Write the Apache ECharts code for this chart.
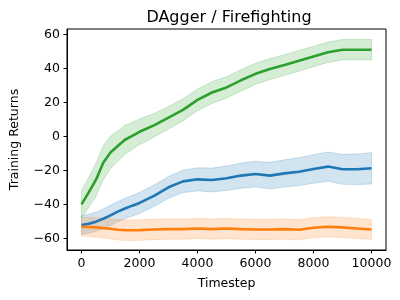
<!DOCTYPE html>
<html>
<head>
<meta charset="utf-8">
<script src="https://cdn.jsdelivr.net/npm/echarts@6/dist/echarts.min.js"></script>
<style>
html,body{margin:0;padding:0;background:#fff;}
#chart{width:400px;height:300px;}
</style>
</head>
<body>
<div id="chart"></div>
<script>
// ---- data ----
var timesteps = [0,250,500,750,1000,1250,1500,1750,2000,2500,3000,3500,4000,4500,5000,5500,6000,6500,7000,7500,8000,8500,9000,9500,10000];
var blueMean  = [-52.2,-51.5,-50.2,-48.5,-46.5,-44.3,-42.5,-40.8,-39.2,-35,-30,-26.5,-25.3,-25.7,-24.7,-23.1,-22.2,-23.1,-21.8,-20.8,-19.2,-17.8,-19.4,-19.4,-18.8];
var blueStd   = [5.5,5.6,5.7,5.8,5.9,6,6,6.1,6.2,6.3,6.4,6.6,6.8,7,7.2,7.4,7.6,7.8,8,8.2,8.4,8.6,8.8,9,9.2];
var orangeMean= [-53.2,-53.4,-53.6,-54,-54.4,-55,-55.2,-55.3,-55.2,-54.8,-54.6,-54.6,-54.2,-54.6,-54.2,-54.6,-54.8,-54.8,-54.6,-55,-53.8,-53.2,-53.6,-54.2,-54.8];
var orangeStd = [5.5,5.6,5.7,5.8,5.9,6,6,6,6,6,5.9,5.9,5.9,5.9,5.9,5.9,5.9,5.9,5.9,5.9,5.9,5.9,5.9,5.9,5.9];
var greenMean = [-40,-33,-25.5,-15.5,-9.5,-5.7,-2,0.3,2.7,6.5,11,15.6,21.5,25.8,28.8,33,36.8,39.6,42,44.5,47,49.5,51,51,51];
var greenStd  = [8,8.8,9.8,10,9.5,9,8.5,8,7.5,7,6.6,6.5,6.4,6.4,6.3,6.3,6.2,6.2,6.1,6.1,6,6,6,6,6];
var xTicks = [0,2000,4000,6000,8000,10000];
var yTicks = [-60,-40,-20,0,20,40,60];
var names = ['blue','orange','green'];

var colors = {blue:'#1f77b4', orange:'#ff7f0e', green:'#2ca02c'};
var bands  = {blue:'rgba(31,119,180,0.2)', orange:'rgba(255,127,14,0.2)', green:'rgba(44,160,44,0.2)'};
var means  = {blue:blueMean, orange:orangeMean, green:greenMean};
var stds   = {blue:blueStd, orange:orangeStd, green:greenStd};

var series = [];
names.forEach(function(k){
  var m = means[k], s = stds[k];
  var line  = timesteps.map(function(t,i){return [t, m[i]];});
  series.push({type:'custom', data:[[timesteps[0], m[0]]], silent:true,
    renderItem:function(params, api){
      var pts = [];
      for (var i=0;i<timesteps.length;i++) pts.push(api.coord([timesteps[i], m[i]+s[i]]));
      for (var j=timesteps.length-1;j>=0;j--) pts.push(api.coord([timesteps[j], m[j]-s[j]]));
      return {type:'polygon', shape:{points:pts}, style:{fill:bands[k], stroke:bands[k], lineWidth:1}};
    }});
  series.push({type:'line', data:line, showSymbol:false, silent:true,
    lineStyle:{width:2.6, color:colors[k]}});
});

var fmt = function(v){ return String(v).replace('-', '\u2212'); };
var font = 'DejaVu Sans';

var chart = echarts.init(document.getElementById('chart'), null, {renderer:'canvas'});
chart.setOption({
  animation:false,
  backgroundColor:'#fff',
  title:{text:'DAgger / Firefighting', left:224, textAlign:'center', top:5,
    textStyle:{fontFamily:font, fontSize:16, fontWeight:'normal', color:'#000'}},
  grid:{left:65, right:14, top:29, bottom:50, show:true, borderColor:'#000', borderWidth:1, backgroundColor:'transparent'},
  xAxis:{type:'value', min:-500, max:10500,
    name:'Timestep', nameLocation:'middle', nameGap:27,
    nameTextStyle:{fontFamily:font, fontSize:12.5, color:'#000'},
    axisLine:{show:true, onZero:false, lineStyle:{color:'#000', width:1}},
    axisTick:{show:true, inside:false, length:3.5, customValues:xTicks, lineStyle:{color:'#000', width:1}},
    axisLabel:{customValues:xTicks, margin:7, fontFamily:font, fontSize:12.5, color:'#000', formatter:fmt},
    splitLine:{show:false}},
  yAxis:{type:'value', min:-66.9, max:63.2,
    name:'Training Returns', nameLocation:'middle', nameGap:46,
    nameTextStyle:{fontFamily:font, fontSize:12.5, color:'#000'},
    axisLine:{show:true, onZero:false, lineStyle:{color:'#000', width:1}},
    axisTick:{show:true, inside:false, length:3.5, customValues:yTicks, lineStyle:{color:'#000', width:1}},
    axisLabel:{customValues:yTicks, margin:7, fontFamily:font, fontSize:12.5, color:'#000', formatter:fmt},
    splitLine:{show:false}},
  series:series
});
</script>
</body>
</html>
